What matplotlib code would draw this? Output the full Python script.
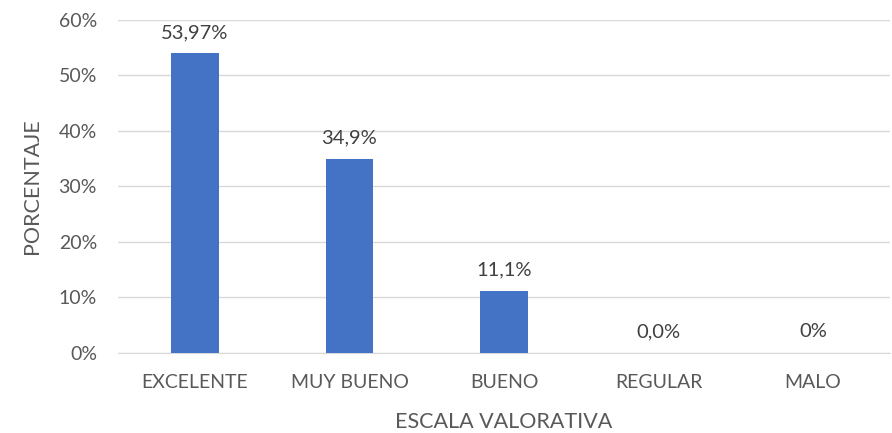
import matplotlib.pyplot as plt

categorias = ['EXCELENTE', 'MUY BUENO', 'BUENO', 'REGULAR', 'MALO']
porcentajes = [53.97, 34.9, 11.1, 0.0, 0.0]
etiquetas = ['53,97%', '34,9%', '11,1%', '0,0%', '0%']
yticks = [0, 10, 20, 30, 40, 50, 60]

plt.rcParams['font.family'] = ['Lato', 'DejaVu Sans']

fig = plt.figure(figsize=(8.92, 4.33), dpi=100)
ax = fig.add_axes([0.132, 0.185, 0.866, 0.769])

x = range(len(categorias))
ax.bar(x, porcentajes, width=0.31, color='#4472C4', zorder=3)

for i, (v, t) in enumerate(zip(porcentajes, etiquetas)):
    ax.annotate(t, (i, v), xytext=(0, 9), textcoords='offset points',
                ha='center', va='bottom', fontsize=14.5, color='#404040')

ax.set_xlim(-0.5, 4.5)
ax.set_ylim(0, 60)
ax.set_yticks(yticks)
ax.set_yticklabels([f'{v}%' for v in yticks])
ax.set_xticks(list(x))
ax.set_xticklabels(categorias)
ax.tick_params(length=0, labelsize=14, colors='#595959')
ax.tick_params(axis='x', pad=15)
ax.tick_params(axis='y', pad=15)
ax.grid(axis='y', color='#D9D9D9', linewidth=1, zorder=0)
for s in ['top', 'right', 'left']:
    ax.spines[s].set_visible(False)
ax.spines['bottom'].set_color('#D9D9D9')

ax.set_xlabel('ESCALA VALORATIVA', fontsize=15.5, color='#595959', labelpad=15)
ax.set_ylabel('PORCENTAJE', fontsize=15.5, color='#595959', labelpad=12)

fig.savefig('out.png', dpi=100)
